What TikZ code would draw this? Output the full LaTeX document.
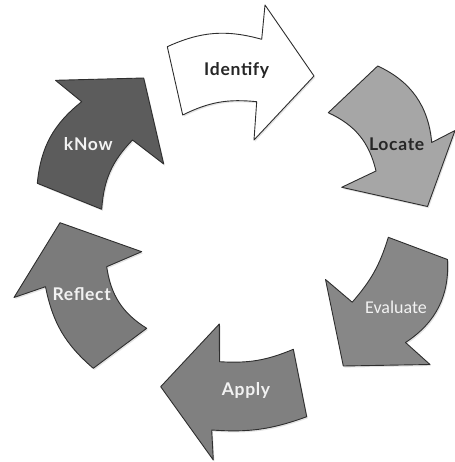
\documentclass[tikz,border=0pt]{standalone}
\usepackage{fontspec}
\setmainfont{Lato}
\newfontfamily\lblfont[LetterSpace=4]{Lato}
\newfontfamily\calfont{Carlito}
\usetikzlibrary{shadows}
\definecolor{edgegray}{HTML}{2E2E2E}
\definecolor{locfill}{HTML}{A6A6A6}
\definecolor{evafill}{HTML}{878787}
\definecolor{appfill}{HTML}{808080}
\definecolor{reffill}{HTML}{7B7B7B}
\definecolor{knofill}{HTML}{5C5C5C}
\definecolor{darktext}{HTML}{262626}
\definecolor{lighttext}{HTML}{F2F2F2}
\begin{document}
\begin{tikzpicture}[x=1pt, y=-1pt,
  cyc/.style={draw=edgegray, line width=0.9pt, line join=round,
    drop shadow={opacity=0.22, shadow xshift=1.2pt, shadow yshift=-1.6pt}},
  lbl/.style={inner sep=0pt, font=\lblfont\bfseries\fontsize{17.5}{20}\selectfont}]
\useasboundingbox (0,0) rectangle (454,462);

% Identify (top, pointing right)
\path[cyc, fill=white] (167.3,46.7) to[bend left=20] (261.7,39.3) -- (265,5) -- (314,76)
  -- (254,140) -- (256.7,101.7) to[bend right=16] (182.7,115) -- cycle;
% Locate (upper right, turning down)
\path[cyc, fill=locfill] (377.7,66) to[bend left=30] (431.7,142.5) -- (455,130.5) -- (427.5,206.5)
  -- (341.7,187.3) -- (376,171) to[bend right=26] (328.3,112.7) -- cycle;
% Evaluate (lower right, turning down-left)
\path[cyc, fill=evafill] (447.5,259.5) to[bend left=30] (405.5,342.5) -- (430,364.5) -- (343.3,366)
  -- (325.5,279.5) -- (352.2,302.2) to[bend right=12] (388.3,237.3) -- cycle;
% Apply (bottom, pointing left)
\path[cyc, fill=appfill] (306.7,416.7) to[bend left=12] (211.7,430) -- (213.3,460) -- (160.7,386.7)
  -- (219.3,324) -- (219.5,361.7) to[bend right=13] (293.3,349.3) -- cycle;
% Reflect (lower left, pointing up)
\path[cyc, fill=reffill] (93.3,368.3) to[bend left=19] (45.5,286.7) -- (14,297.5) -- (60,222.7)
  -- (141.7,251.7) -- (106.7,266.7) to[bend right=25] (146.7,328.3) -- cycle;
% kNow (upper left, turning right)
\path[cyc, fill=knofill] (37.3,183.3) to[bend left=23] (81.7,101.7) -- (55.5,80.3) -- (143.7,78)
  -- (163.7,164) -- (132.5,140) to[bend right=20] (101.7,209.3) -- cycle;

% Labels
\node[lbl, text=darktext] (identify) at (236.7,70) {Identify};
\node[lbl, text=darktext] (locate) at (396.7,144) {Locate};
\node[inner sep=0pt, text=lighttext, font=\calfont\fontsize{18}{20}\selectfont] (evaluate) at (396,307.3) {Evaluate};
\node[lbl, text=lighttext] (apply) at (246,390.7) {Apply};
\node[lbl, text=lighttext] (reflect) at (81.7,294) {Reflect};
\node[lbl, text=lighttext] (know) at (88.3,144) {kNow};
\end{tikzpicture}
\end{document}
